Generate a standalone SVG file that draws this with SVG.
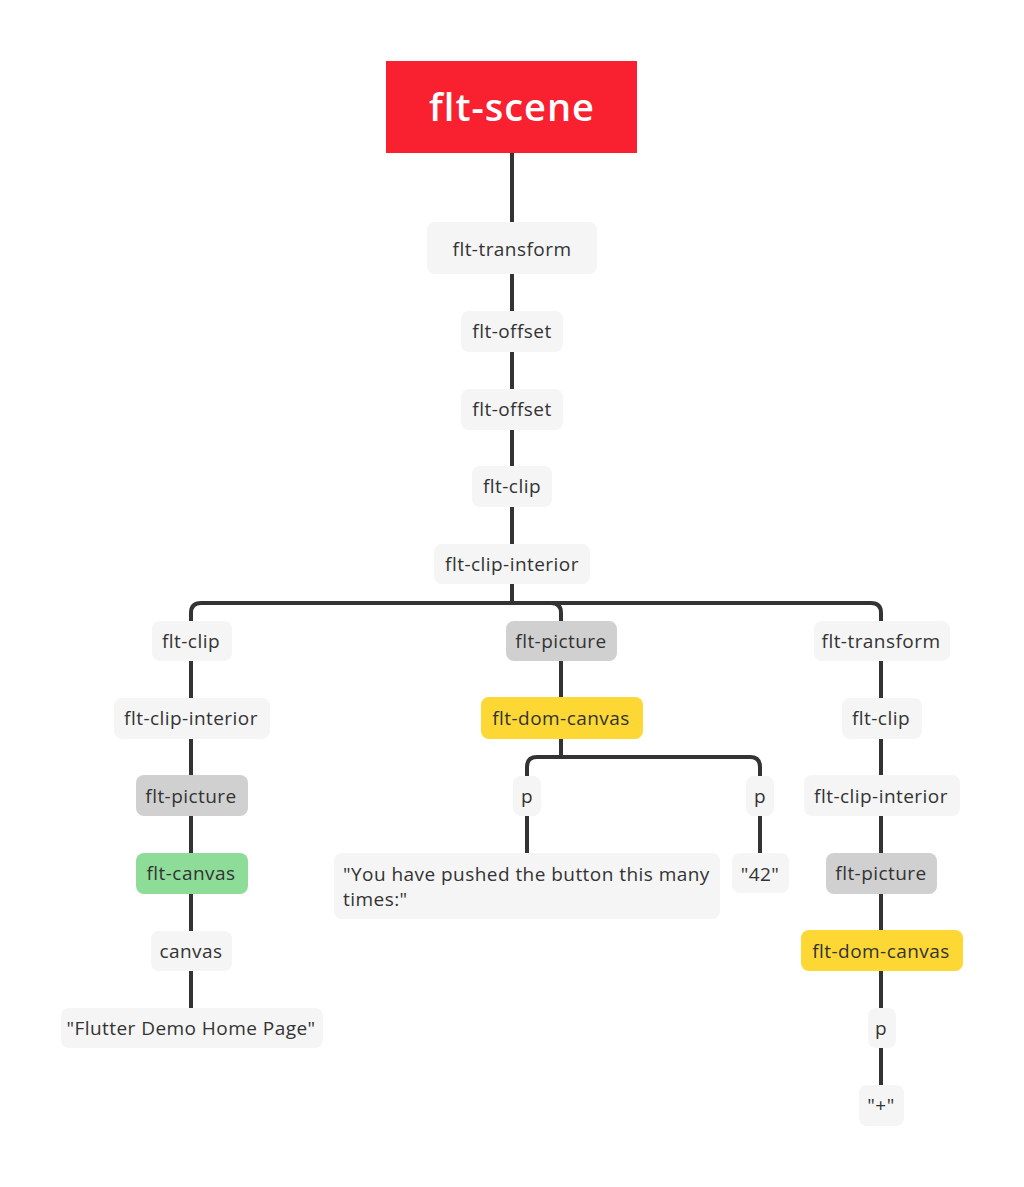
<svg xmlns="http://www.w3.org/2000/svg" width="1024" height="1187" viewBox="0 0 1024 1187">
<style>
.n rect{fill:#f5f5f5;}
.g rect{fill:#d0d0d0;}
.y rect{fill:#fdd835;}
.gr rect{fill:#8ddd99;}
text{font-family:"Open Sans","Liberation Sans",sans-serif;font-size:19px;fill:#333;text-anchor:middle;letter-spacing:0.45px;}
.c path{fill:none;stroke:#333;stroke-width:4;}
</style>
<rect width="1024" height="1187" fill="#fff"/>
<g class="c" id="connectors">
<path d="M512 153V222M512 274V311M512 352V389M512 430V466M512 507V544"/>
<path d="M512 584V603H201Q191 603 191 613V621"/>
<path d="M512 584V603H551Q561 603 561 613V621"/>
<path d="M512 584V603H871Q881 603 881 613V621"/>
<path d="M191 661V698M191 739V775M191 816V853M191 894V931M191 971V1008"/>
<path d="M561 661V697"/>
<path d="M561 739V757H537Q527 757 527 767V776"/>
<path d="M561 739V757H750Q760 757 760 767V776"/>
<path d="M527 816V853M760 816V853"/>
<path d="M881 661V698M881 739V775M881 816V853M881 894V930M881 971V1008M881 1048V1085"/>
</g>
<g id="flt-scene"><rect x="386" y="61" width="251" height="92" fill="#f9202f"/><text x="512" y="121" style="font-size:38px;font-weight:600;fill:#fff;letter-spacing:1px">flt-scene</text></g>
<g id="n1" class="n"><rect x="427" y="222" width="170" height="52" rx="8"/><text x="512" y="256">flt-transform</text></g>
<g id="n2" class="n"><rect x="461" y="311" width="102" height="41" rx="8"/><text x="512" y="338">flt-offset</text></g>
<g id="n3" class="n"><rect x="461" y="389" width="102" height="41" rx="8"/><text x="512" y="416">flt-offset</text></g>
<g id="n4" class="n"><rect x="472" y="466" width="80" height="41" rx="8"/><text x="512" y="493">flt-clip</text></g>
<g id="n5" class="n"><rect x="434" y="544" width="156" height="40" rx="8"/><text x="512" y="571">flt-clip-interior</text></g>
<g id="l1" class="n"><rect x="152" y="621" width="80" height="40" rx="8"/><text x="191" y="648">flt-clip</text></g>
<g id="l2" class="n"><rect x="114" y="698" width="156" height="41" rx="8"/><text x="191" y="725">flt-clip-interior</text></g>
<g id="l3" class="g"><rect x="136" y="775" width="112" height="41" rx="8"/><text x="191" y="803">flt-picture</text></g>
<g id="l4" class="gr"><rect x="136" y="853" width="112" height="41" rx="8"/><text x="191" y="880">flt-canvas</text></g>
<g id="l5" class="n"><rect x="151" y="931" width="81" height="40" rx="8"/><text x="191" y="958">canvas</text></g>
<g id="l6" class="n"><rect x="61" y="1008" width="262" height="40" rx="8"/><text x="191" y="1035">"Flutter Demo Home Page"</text></g>
<g id="m1" class="g"><rect x="506" y="621" width="111" height="40" rx="8"/><text x="561" y="648">flt-picture</text></g>
<g id="m2" class="y"><rect x="481" y="697" width="162" height="42" rx="8"/><text x="561" y="725">flt-dom-canvas</text></g>
<g id="m3" class="n"><rect x="513" y="776" width="28" height="40" rx="8"/><text x="527" y="803">p</text></g>
<g id="m4" class="n"><rect x="746" y="776" width="28" height="40" rx="8"/><text x="760" y="803">p</text></g>
<g id="m5" class="n"><rect x="334" y="853" width="386" height="66" rx="8"/><text x="343" y="881" style="text-anchor:start">"You have pushed the button this many</text><text x="343" y="906" style="text-anchor:start">times:"</text></g>
<g id="m6" class="n"><rect x="732" y="853" width="57" height="40" rx="8"/><text x="760" y="881">"42"</text></g>
<g id="r1" class="n"><rect x="814" y="621" width="136" height="40" rx="8"/><text x="881" y="648">flt-transform</text></g>
<g id="r2" class="n"><rect x="842" y="698" width="80" height="41" rx="8"/><text x="881" y="725">flt-clip</text></g>
<g id="r3" class="n"><rect x="804" y="775" width="156" height="41" rx="8"/><text x="881" y="803">flt-clip-interior</text></g>
<g id="r4" class="g"><rect x="826" y="853" width="111" height="41" rx="8"/><text x="881" y="880">flt-picture</text></g>
<g id="r5" class="y"><rect x="801" y="930" width="162" height="41" rx="8"/><text x="881" y="958">flt-dom-canvas</text></g>
<g id="r6" class="n"><rect x="868" y="1008" width="28" height="40" rx="8"/><text x="881" y="1035">p</text></g>
<g id="r7" class="n"><rect x="859" y="1085" width="45" height="41" rx="8"/><text x="881" y="1112">"+"</text></g>
</svg>
